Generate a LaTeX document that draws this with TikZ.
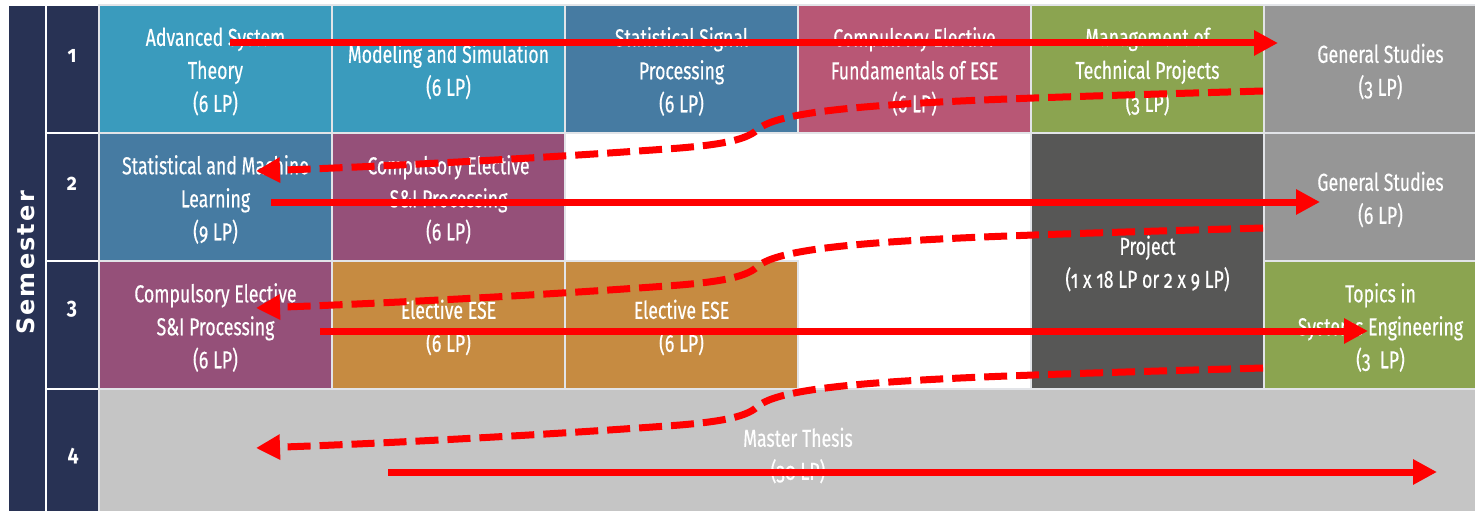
\documentclass[tikz,border=0pt]{standalone}
\usepackage{fontspec}
\setmainfont{Fira Sans}[Numbers=OldStyle, FakeStretch=0.723, FakeBold=0.4]
\newfontfamily\semfont{DejaVu Sans}[LetterSpace=9]
\newfontfamily\numfont{Fira Sans}[Numbers=OldStyle, FakeStretch=0.85]
\usetikzlibrary{arrows.meta}
\definecolor{cNavy}{HTML}{283254}
\definecolor{cTeal}{HTML}{3A9BBD}
\definecolor{cSteel}{HTML}{467BA2}
\definecolor{cRose}{HTML}{B85775}
\definecolor{cOlive}{HTML}{8BA450}
\definecolor{cGen}{HTML}{969696}
\definecolor{cPlum}{HTML}{955079}
\definecolor{cDark}{HTML}{575756}
\definecolor{cOchre}{HTML}{C68B41}
\definecolor{cThesis}{HTML}{C5C5C5}
\definecolor{cRed}{HTML}{FF0000}
\definecolor{cBorder}{HTML}{E2E4E8}
\newcommand\cellbox[6][233]{%
  \node[cell, fill=#5, minimum width=#1pt] (#2) at (#3,#4) {};
  \node[celltext] (#2t) at (#2) {#6};}
\begin{document}
\begin{tikzpicture}[x=1pt,y=-1pt,
  cell/.style={draw=cBorder, line width=2pt, minimum width=233pt, minimum height=128pt, inner sep=0pt},
  celltext/.style={text=white, align=center, inner sep=0pt, yshift=-2.5pt, font=\fontsize{24.5}{33}\selectfont},
  numcell/.style={draw=white, line width=2pt, fill=cNavy, minimum width=53pt,
    minimum height=128pt, inner sep=0pt},
  numtext/.style={text=white, inner sep=0pt, anchor=base, font=\numfont\bfseries\fontsize{23}{28}\selectfont},
  flow/.style={draw=cRed, line width=7pt, -{Triangle[length=24pt,width=24pt]}},
  back/.style={flow, dash pattern=on 23pt off 9pt},
]
\fill[white] (0,0) rectangle (1475,511);
\useasboundingbox (0,0) rectangle (1475,511);
\clip (0,0) rectangle (1475,511);

% left semester bar
\node[fill=cNavy, draw=white, line width=2pt, minimum width=38pt, minimum height=512pt, inner sep=0pt] (bar) at (27,261) {};
\node[rotate=90, text=white, inner sep=0pt, font=\semfont\bfseries\fontsize{24}{28}\selectfont] (semlabel) at (26,263) {Semester};

% number column
\node[numcell] (n1) at (72.5,69) {};
\node[numcell] (n2) at (72.5,197) {};
\node[numcell] (n3) at (72.5,325) {};
\node[numcell] (n4) at (72.5,453) {};
\node[numtext] (t1) at (72,63) {1};
\node[numtext] (t2) at (72,190) {2};
\node[numtext] (t3) at (72,314) {3};
\node[numtext] (t4) at (73,461) {4};

% row 1
\cellbox{c11}{215.5}{69}{cTeal}{Advanced System\\Theory\\(6 LP)}
\cellbox{c12}{448.5}{69}{cTeal}{Modeling and Simulation\\(6 LP)}
\cellbox{c13}{681.5}{69}{cSteel}{Statistical Signal\\Processing\\(6 LP)}
\cellbox{c14}{914.5}{69}{cRose}{Compulsory Elective\\Fundamentals of ESE\\(6 LP)}
\cellbox{c15}{1147.5}{69}{cOlive}{Management of\\Technical Projects\\(3 LP)}
\cellbox{c16}{1380.5}{69}{cGen}{General Studies\\(3 LP)}
% row 2
\cellbox{c21}{215.5}{197}{cSteel}{Statistical and Machine\\Learning\\(9 LP)}
\cellbox{c22}{448.5}{197}{cPlum}{Compulsory Elective\\S\&I Processing\\(6 LP)}
\cellbox{c26}{1380.5}{197}{cGen}{General Studies\\(6 LP)}
% project spanning rows 2-3
\node[cell, fill=cDark, minimum height=256pt] (proj) at (1147.5,261) {};
\node[celltext] (projt) at (proj) {Project\\(1 x 18 LP or 2 x 9 LP)};
% row 3
\cellbox{c31}{215.5}{325}{cPlum}{Compulsory Elective\\S\&I Processing\\(6 LP)}
\cellbox{c32}{448.5}{325}{cOchre}{Elective ESE\\(6 LP)}
\cellbox{c33}{681.5}{325}{cOchre}{Elective ESE\\(6 LP)}
\cellbox{c36}{1380.5}{325}{cOlive}{Topics in\\Systems Engineering\\(3\ \ LP)}
% row 4
\cellbox[1398]{thesis}{798}{453}{cThesis}{Master Thesis\\(30 LP)}

% forward arrows
\coordinate (aS1) at (230,43);  \coordinate (aE1) at (1278,43);
\coordinate (aS2) at (271,202); \coordinate (aE2) at (1320,202);
\coordinate (aS3) at (320,331); \coordinate (aE3) at (1368,331);
\coordinate (aS4) at (388,472); \coordinate (aE4) at (1437,472);
\draw[flow] (aS1) -- (aE1);
\draw[flow] (aS2) -- (aE2);
\draw[flow] (aS3) -- (aE3);
\draw[flow] (aS4) -- (aE4);

% return arrows
\coordinate (bS1) at (1263,91);  \coordinate (bK1) at (757,130); \coordinate (bM1) at (680,148); \coordinate (bE1) at (256,171);
\coordinate (bS2) at (1263,228); \coordinate (bK2) at (757,267); \coordinate (bM2) at (680,285); \coordinate (bE2) at (256,308);
\coordinate (bS3) at (1263,368); \coordinate (bK3) at (757,407); \coordinate (bM3) at (680,425); \coordinate (bE3) at (256,448);
\foreach \i in {1,2,3}{
  \draw[back] (bS\i) .. controls +(-313,9) and +(28,-26) .. (bK\i)
     .. controls +(-12,11) and +(35,-3) .. (bM\i)
     .. controls +(-120,9) and +(140,-5) .. (bE\i);
}
\end{tikzpicture}
\end{document}
